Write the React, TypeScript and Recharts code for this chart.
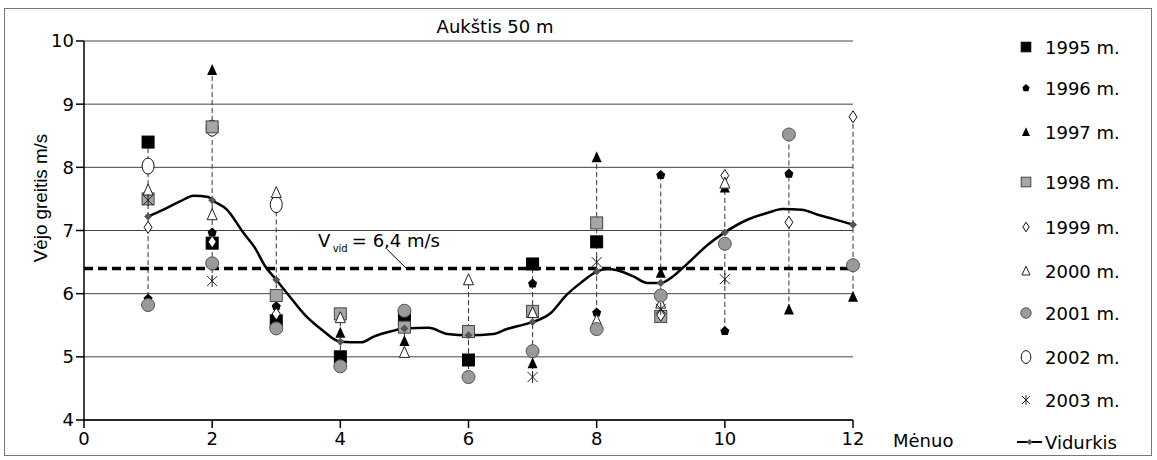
import React from "react";
import {
  ComposedChart,
  Scatter,
  Line,
  XAxis,
  YAxis,
  CartesianGrid,
  ReferenceLine,
} from "recharts";

// months 1..12, null = no value for that month
const months = [1, 2, 3, 4, 5, 6, 7, 8, 9, 10, 11, 12];
const y1995 = [8.4, 6.8, 5.57, 5.0, 5.62, 4.95, 6.47, 6.82, null, null, null, null];
const y1996 = [5.92, 6.97, 5.8, null, null, null, 6.16, 5.7, 7.88, 5.41, 7.9, null];
const y1997 = [null, 9.54, null, 5.38, 5.25, null, 4.9, 8.16, 6.33, 7.68, 5.75, 5.95];
const y1998 = [7.5, 8.64, 5.97, 5.68, 5.47, 5.4, 5.72, 7.12, 5.64, null, null, null];
const y1999 = [7.05, 6.82, 5.68, null, null, null, null, null, 5.66, 7.87, 7.13, 8.8];
const y2000 = [7.64, 7.25, 7.6, 5.62, 5.07, 6.22, 5.7, 5.58, 5.85, 7.75, null, null];
const y2001 = [5.82, 6.48, 5.45, 4.85, 5.73, 4.68, 5.09, 5.44, 5.97, 6.79, 8.52, 6.45];
const y2002 = [8.02, 8.62, 7.41, null, null, null, null, null, null, null, null, null];
const y2003 = [7.48, 6.2, null, null, null, null, 4.68, 6.5, 5.76, 6.23, null, null];

// smoothed average curve
const avgX = [1, 1.24, 1.5, 1.71, 1.94, 2, 2.23, 2.49, 2.67, 2.83, 3, 3.19, 3.45, 3.71, 4, 4.33, 4.52, 4.78, 5, 5.38, 5.67, 6, 6.39, 6.6, 6.86, 7, 7.28, 7.53, 7.75, 8, 8.17, 8.32, 8.58, 8.79, 9, 9.16, 9.42, 9.73, 10, 10.35, 10.67, 10.9, 11.2, 11.45, 11.7, 12];
const avgY = [7.22, 7.33, 7.46, 7.55, 7.53, 7.48, 7.33, 6.96, 6.72, 6.43, 6.22, 5.98, 5.66, 5.43, 5.24, 5.23, 5.32, 5.4, 5.45, 5.46, 5.36, 5.34, 5.36, 5.44, 5.51, 5.55, 5.69, 5.98, 6.17, 6.35, 6.39, 6.37, 6.27, 6.17, 6.17, 6.25, 6.48, 6.77, 6.97, 7.17, 7.28, 7.34, 7.33, 7.25, 7.18, 7.09];

const meanValue = 6.4;
const xTicks = [0, 2, 4, 6, 8, 10, 12];
const yTicks = [4, 5, 6, 7, 8, 9, 10];

const FONT = "'DejaVu Sans', sans-serif";

type Pt = { x: number; y: number };
const toPoints = (vals: (number | null)[]): Pt[] =>
  months
    .map((m, i) => ({ x: m, y: vals[i] as number }))
    .filter((p) => p.y != null);

const avgData: Pt[] = avgX.map((x, i) => ({ x, y: avgY[i] }));

// marker shapes
const shapes: Record<string, (cx: number, cy: number, k?: number) => React.ReactElement> = {
  "1995": (cx, cy, k = 1) => (
    <rect x={cx - 6 * k} y={cy - 6 * k} width={12 * k} height={12 * k} fill="#000" stroke="#000" />
  ),
  "1996": (cx, cy, k = 1) => (
    <polygon
      points={`${cx},${cy - 5 * k} ${cx + 4.5 * k},${cy - 1 * k} ${cx + 3 * k},${cy + 4 * k} ${cx - 3 * k},${cy + 4 * k} ${cx - 4.5 * k},${cy - 1 * k}`}
      fill="#000"
    />
  ),
  "1997": (cx, cy, k = 1) => (
    <polygon points={`${cx},${cy - 6 * k} ${cx + 5 * k},${cy + 5 * k} ${cx - 5 * k},${cy + 5 * k}`} fill="#000" />
  ),
  "1998": (cx, cy, k = 1) => (
    <rect x={cx - 6 * k} y={cy - 6 * k} width={12 * k} height={12 * k} fill="#a6a6a6" stroke="#444" />
  ),
  "1999": (cx, cy, k = 1) => (
    <polygon
      points={`${cx},${cy - 6 * k} ${cx + 4 * k},${cy} ${cx},${cy + 6 * k} ${cx - 4 * k},${cy}`}
      fill="#fff"
      stroke="#111"
    />
  ),
  "2000": (cx, cy, k = 1) => (
    <polygon
      points={`${cx},${cy - 6 * k} ${cx + 5 * k},${cy + 5 * k} ${cx - 5 * k},${cy + 5 * k}`}
      fill="#fff"
      stroke="#222"
    />
  ),
  "2001": (cx, cy, k = 1) => <circle cx={cx} cy={cy} r={6.5 * k} fill="#9a9a9a" stroke="#555" />,
  "2002": (cx, cy, k = 1) => <ellipse cx={cx} cy={cy} rx={6 * k} ry={8 * k} fill="#fff" stroke="#111" />,
  "2003": (cx, cy, k = 1) => (
    <g stroke="#222" strokeWidth={1}>
      <line x1={cx} y1={cy - 6 * k} x2={cx} y2={cy + 6 * k} />
      <line x1={cx - 5 * k} y1={cy - 5 * k} x2={cx + 5 * k} y2={cy + 5 * k} />
      <line x1={cx + 5 * k} y1={cy - 5 * k} x2={cx - 5 * k} y2={cy + 5 * k} />
    </g>
  ),
};

const years = [
  { name: "1995", vals: y1995 },
  { name: "1996", vals: y1996 },
  { name: "1997", vals: y1997 },
  { name: "1998", vals: y1998 },
  { name: "1999", vals: y1999 },
  { name: "2000", vals: y2000 },
  { name: "2001", vals: y2001 },
  { name: "2002", vals: y2002 },
  { name: "2003", vals: y2003 },
];
// 2002 is drawn underneath the others
const drawOrder = ["2002", "1995", "1996", "1997", "1998", "1999", "2000", "2001", "2003"];

// min..max range per month for the dashed vertical lines
const ranges = months.map((m, i) => {
  const vals = years.map((y) => y.vals[i]).filter((v) => v != null) as number[];
  const a = avgData.find((p) => p.x === m);
  if (a) vals.push(a.y);
  return { m, lo: Math.min(...vals), hi: Math.max(...vals) };
});

const AvgDot = (props: any) => {
  const { cx, cy, payload, index } = props;
  if (!Number.isInteger(payload.x)) return <g key={`d${index}`} />;
  return (
    <polygon
      key={`d${index}`}
      points={`${cx},${cy - 4} ${cx + 4},${cy} ${cx},${cy + 4} ${cx - 4},${cy}`}
      fill="#555"
    />
  );
};

const MeanLabel = (props: any) => {
  const { viewBox } = props;
  const x0 = viewBox.x;
  const w = viewBox.width;
  const y0 = viewBox.y;
  const px = (m: number) => x0 + (m / 12) * w;
  return (
    <g fontFamily={FONT} fill="#000">
      <text x={px(3.65)} y={y0 - 21} fontSize={18}>V</text>
      <text x={px(3.88)} y={y0 - 16} fontSize={10}>vid</text>
      <text x={px(4.18)} y={y0 - 21} fontSize={18}>= 6,4 m/s</text>
      <line x1={px(4.73)} y1={y0 - 19} x2={px(5.03)} y2={y0} stroke="#000" strokeWidth={1} />
    </g>
  );
};

const YLabel = (props: any) => {
  const { viewBox } = props;
  const cx = viewBox.x + 16;
  const cy = 198;
  return (
    <text
      x={cx}
      y={cy}
      transform={`rotate(-90 ${cx} ${cy})`}
      textAnchor="middle"
      dominantBaseline="central"
      fontFamily="'Liberation Sans', Arial, sans-serif"
      fontSize={18.8}
      fill="#000"
    >
      Vėjo greitis m/s
    </text>
  );
};

const XLabel = (props: any) => {
  const { viewBox } = props;
  return (
    <text x={viewBox.x + viewBox.width + 40} y={viewBox.y + 26.5} fontFamily={FONT} fontSize={18} fill="#000">
      Mėnuo
    </text>
  );
};

const legendTops = [47, 88, 132, 182, 227, 271, 313, 357, 400];

const App: React.FC = () => {
  return (
    <div style={{ position: "absolute", left: 0, top: 0, width: 1157, height: 460, background: "#fff" }}>
      <div
        style={{
          position: "absolute",
          left: 4,
          top: 8,
          width: 1148,
          height: 448,
          border: "1px solid #777",
          boxSizing: "border-box",
        }}
      />
      <div style={{ position: "absolute", left: 0, top: 0 }}>
        <ComposedChart width={1157} height={460} margin={{ top: 41, right: 304, bottom: 10, left: 24 }}>
          <CartesianGrid horizontal vertical={false} stroke="#444" strokeWidth={1} />
          <XAxis
            dataKey="x"
            type="number"
            domain={[0, 12]}
            ticks={xTicks}
            height={30}
            allowDuplicatedCategory={false}
            stroke="#000"
            strokeWidth={1.5}
            tickSize={8}
            tickMargin={4}
            tick={{ fill: "#000", fontSize: 18, fontFamily: FONT }}
            label={{ content: XLabel }}
          />
          <YAxis
            dataKey="y"
            type="number"
            domain={[4, 10]}
            ticks={yTicks}
            width={60}
            stroke="#000"
            strokeWidth={1.5}
            tickSize={8}
            tickMargin={2}
            tick={{ fill: "#000", fontSize: 18, fontFamily: FONT }}
            label={{ content: YLabel }}
          />
          {ranges.map((r) => (
            <ReferenceLine
              key={`r${r.m}`}
              segment={[
                { x: r.m, y: r.lo },
                { x: r.m, y: r.hi },
              ]}
              stroke="#333"
              strokeDasharray="5 3"
              strokeWidth={1}
            />
          ))}
          <ReferenceLine
            y={meanValue}
            stroke="#000"
            strokeWidth={3.5}
            strokeDasharray="9 5"
            label={{ content: MeanLabel }}
          />
          {drawOrder.map((name) => {
            const yr = years.find((y) => y.name === name)!;
            return (
              <Scatter
                key={yr.name}
                name={`${yr.name} m.`}
                data={toPoints(yr.vals)}
                isAnimationActive={false}
                shape={(p: any) => shapes[yr.name](p.cx, p.cy)}
              />
            );
          })}
          <Line
            data={avgData}
            dataKey="y"
            type="monotone"
            stroke="#000"
            strokeWidth={2.5}
            dot={AvgDot}
            activeDot={false}
            isAnimationActive={false}
          />
        </ComposedChart>
      </div>
      {/* title and legend */}
      <svg style={{ position: "absolute", left: 0, top: 0 }} width={1157} height={460}>
        <text x={495} y={32.5} textAnchor="middle" fontFamily={FONT} fontSize={18} fill="#000">
          Aukštis 50 m
        </text>
        {years.map((yr, i) => (
          <g key={yr.name}>
            {shapes[yr.name](1026, legendTops[i], 0.8)}
            <text x={1045} y={legendTops[i] + 6.5} fontFamily={FONT} fontSize={18} fill="#000">
              {yr.name} m.
            </text>
          </g>
        ))}
        <line x1={1017} y1={442} x2={1042} y2={442} stroke="#000" strokeWidth={2} />
        <polygon points="1029.5,439 1032.5,442 1029.5,445 1026.5,442" fill="#555" />
        <text x={1045} y={448.5} fontFamily={FONT} fontSize={18} fill="#000">
          Vidurkis
        </text>
      </svg>
    </div>
  );
};

export default App;
